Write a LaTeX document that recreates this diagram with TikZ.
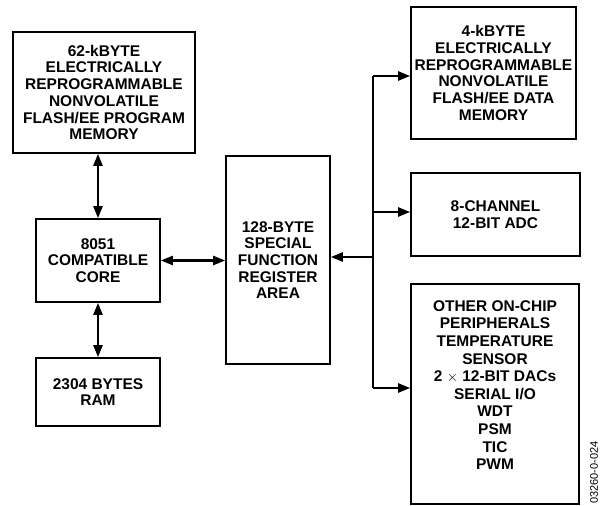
\documentclass[tikz,border=0pt]{standalone}
\usepackage{fontspec}
\setmainfont{Liberation Sans}
\usetikzlibrary{arrows.meta,positioning,calc}

\begin{document}
\begin{tikzpicture}[x=1pt, y=-1pt, font=\fontsize{15.5}{16.7}\selectfont\bfseries,
        blk/.style={draw, line width=1.6pt, align=center, inner sep=0pt},
        link/.style={line width=2.2pt, -{Triangle[length=12pt,width=9pt]}},
        dlink/.style={line width=2.2pt, {Triangle[length=12pt,width=9pt]}-{Triangle[length=12pt,width=9pt]}}]
        \useasboundingbox (0,0) rectangle (600,506);
        % left column
        \node[blk, minimum width=182pt, minimum height=121pt] (progmem) at (104,92.5) {62-kBYTE\\ELECTRICALLY\\REPROGRAMMABLE\\NONVOLATILE\\FLASH/EE PROGRAM\\MEMORY};
        \node[blk, minimum width=124pt, minimum height=83pt] (core) at (98,260.5) {8051\\COMPATIBLE\\CORE};
        \node[blk, minimum width=124pt, minimum height=68pt] (ram) at (98,392) {2304 BYTES\\RAM};
        \node[blk, minimum width=104pt, minimum height=208pt] (sfr) at (278,260) {128-BYTE\\SPECIAL\\FUNCTION\\REGISTER\\AREA};
        % right column
        \node[blk, minimum width=165pt, minimum height=132pt] (datamem) at (493.5,73) {4-kBYTE\\ELECTRICALLY\\REPROGRAMMABLE\\NONVOLATILE\\FLASH/EE DATA\\MEMORY};
        \node[blk, minimum width=169pt, minimum height=83pt] (adc) at (495.5,214.5) {8-CHANNEL\\12-BIT ADC};
        \node[blk, minimum width=168pt, minimum height=220pt] (periph) at (495,394) {};
        \node[align=center, inner sep=0pt, font=\fontsize{15.5}{17.6}\selectfont\bfseries] (periphtext) at (495,385) {OTHER ON-CHIP\\PERIPHERALS\\TEMPERATURE\\SENSOR\\2 $\times$ 12-BIT DACs\\SERIAL I/O\\WDT\\PSM\\TIC\\PWM};
        \node[rotate=90, anchor=west, inner sep=0pt, font=\fontsize{11}{12}\selectfont] (fignum) at (594,504) {03260-0-024};
        % bus
        \foreach \j/\y in {j1/76, j2/212, j3/257, j4/388}{\coordinate (\j) at (373,\y);}
        \draw[line width=2.2pt] (j1) -- (j4);
        \foreach \j/\blk in {j1/datamem, j2/adc, j4/periph}{\draw[link] (\j) -- (\j -| \blk.west);}
        \draw[link] (j3) -- (j3 -| sfr.east);
        % core links
        \draw[dlink] (core.north) -- (core.north |- progmem.south);
        \draw[dlink] (core.south) -- (ram.north);
        \draw[dlink] (core.east) -- (core.east -| sfr.west);
    \end{tikzpicture}
\end{document}
